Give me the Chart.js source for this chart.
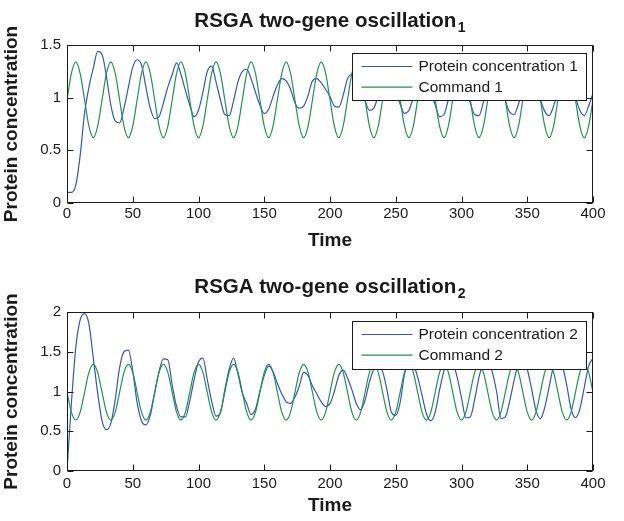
<!DOCTYPE html>
<html>
<head>
<meta charset="utf-8">
<script src="https://cdn.jsdelivr.net/npm/chart.js@4.4.1/dist/chart.umd.min.js"></script>
<style>
  html, body { margin: 0; padding: 0; background: #fff; }
  .panel { position: absolute; left: 0; width: 624px; }
  #top { top: 0; height: 260px; }
  #bottom { top: 260px; height: 261px; }
</style>
</head>
<body>
<div class="panel" id="top"><canvas id="chart1" width="624" height="260"></canvas></div>
<div class="panel" id="bottom"><canvas id="chart2" width="624" height="261"></canvas></div>
<script>
// sample times (read every ~3.33 time units)
const time = [
  0, 3.33, 6.67, 10, 13.33, 16.67, 20, 23.33, 26.67, 30,
  33.33, 36.67, 40, 43.33, 46.67, 50, 53.33, 56.67, 60, 63.33,
  66.67, 70, 73.33, 76.67, 80, 83.33, 86.67, 90, 93.33, 96.67,
  100, 103.33, 106.67, 110, 113.33, 116.67, 120, 123.33, 126.67, 130,
  133.33, 136.67, 140, 143.33, 146.67, 150, 153.33, 156.67, 160, 163.33,
  166.67, 170, 173.33, 176.67, 180, 183.33, 186.67, 190, 193.33, 196.67,
  200, 203.33, 206.67, 210, 213.33, 216.67, 220, 223.33, 226.67, 230,
  233.33, 236.67, 240, 243.33, 246.67, 250, 253.33, 256.67, 260, 263.33,
  266.67, 270, 273.33, 276.67, 280, 283.33, 286.67, 290, 293.33, 296.67,
  300, 303.33, 306.67, 310, 313.33, 316.67, 320, 323.33, 326.67, 330,
  333.33, 336.67, 340, 343.33, 346.67, 350, 353.33, 356.67, 360, 363.33,
  366.67, 370, 373.33, 376.67, 380, 383.33, 386.67, 390, 393.33, 396.67,
  400
];

// top panel
const protein1 = [
  0.10, 0.10, 0.17, 0.45, 0.85, 1.10, 1.28, 1.44, 1.41, 1.20,
  0.93, 0.78, 0.76, 0.90, 1.10, 1.29, 1.36, 1.31, 1.10, 0.90,
  0.80, 0.82, 0.95, 1.10, 1.22, 1.33, 1.22, 1.07, 0.93, 0.82,
  0.88, 1.05, 1.25, 1.30, 1.15, 0.98, 0.84, 0.83, 0.97, 1.15,
  1.25, 1.27, 1.18, 1.05, 0.93, 0.85, 0.89, 1.01, 1.12, 1.18,
  1.16, 1.08, 0.95, 0.90, 0.92, 1.02, 1.16, 1.18, 1.14, 1.08,
  1.01, 0.92, 0.91, 1.02, 1.18, 1.22, 1.18, 1.08, 0.97, 0.88,
  0.90, 1.02, 1.14, 1.20, 1.16, 1.06, 0.94, 0.85, 0.88, 1.00,
  1.13, 1.20, 1.17, 1.06, 0.93, 0.82, 0.84, 0.98, 1.12, 1.20,
  1.18, 1.08, 0.95, 0.84, 0.83, 0.96, 1.10, 1.19, 1.18, 1.09,
  0.97, 0.86, 0.84, 0.94, 1.08, 1.18, 1.19, 1.10, 0.98, 0.87,
  0.83, 0.92, 1.06, 1.17, 1.20, 1.12, 1.00, 0.88, 0.83, 0.92,
  1.04
];
const command1 = [
  0.98, 1.23, 1.34, 1.23, 0.98, 0.73, 0.62, 0.73,
  0.98, 1.23, 1.34, 1.23, 0.98, 0.73, 0.62, 0.73,
  0.98, 1.23, 1.34, 1.23, 0.98, 0.73, 0.62, 0.73,
  0.98, 1.23, 1.34, 1.23, 0.98, 0.73, 0.62, 0.73,
  0.98, 1.23, 1.34, 1.23, 0.98, 0.73, 0.62, 0.73,
  0.98, 1.23, 1.34, 1.23, 0.98, 0.73, 0.62, 0.73,
  0.98, 1.23, 1.34, 1.23, 0.98, 0.73, 0.62, 0.73,
  0.98, 1.23, 1.34, 1.23, 0.98, 0.73, 0.62, 0.73,
  0.98, 1.23, 1.34, 1.23, 0.98, 0.73, 0.62, 0.73,
  0.98, 1.23, 1.34, 1.23, 0.98, 0.73, 0.62, 0.73,
  0.98, 1.23, 1.34, 1.23, 0.98, 0.73, 0.62, 0.73,
  0.98, 1.23, 1.34, 1.23, 0.98, 0.73, 0.62, 0.73,
  0.98, 1.23, 1.34, 1.23, 0.98, 0.73, 0.62, 0.73,
  0.98, 1.23, 1.34, 1.23, 0.98, 0.73, 0.62, 0.73,
  0.98, 1.23, 1.34, 1.23, 0.98, 0.73, 0.62, 0.73,
  0.98
];

// bottom panel
const protein2 = [
  0.00, 0.85, 1.55, 1.90, 1.98, 1.85, 1.42, 0.98, 0.63, 0.52,
  0.60, 0.90, 1.30, 1.50, 1.52, 1.26, 0.86, 0.63, 0.58, 0.70,
  0.98, 1.25, 1.41, 1.40, 1.08, 0.81, 0.68, 0.68, 0.88, 1.15,
  1.37, 1.42, 1.15, 0.88, 0.69, 0.73, 1.02, 1.28, 1.42, 1.22,
  0.98, 0.85, 0.71, 0.78, 1.00, 1.20, 1.32, 1.25, 1.10, 0.97,
  0.87, 0.85, 0.93, 1.07, 1.24, 1.20, 1.07, 0.97, 0.87, 0.81,
  0.85, 1.00, 1.20, 1.27, 1.17, 1.02, 0.85, 0.77, 0.89, 1.12,
  1.28, 1.33, 1.25, 1.02, 0.74, 0.70, 0.86, 1.22, 1.36, 1.34,
  1.18, 0.95, 0.72, 0.63, 0.74, 1.02, 1.26, 1.38, 1.36, 1.18,
  0.92, 0.67, 0.68, 0.90, 1.18, 1.36, 1.40, 1.25, 1.00, 0.66,
  0.68, 0.88, 1.14, 1.35, 1.40, 1.28, 1.03, 0.76, 0.66, 0.80,
  1.06, 1.32, 1.41, 1.32, 1.08, 0.78, 0.67, 0.78, 1.05, 1.32,
  1.42
];
const command2 = [
  0.99, 0.74, 0.64, 0.74, 0.99, 1.24, 1.34, 1.24,
  0.99, 0.74, 0.64, 0.74, 0.99, 1.24, 1.34, 1.24,
  0.99, 0.74, 0.64, 0.74, 0.99, 1.24, 1.34, 1.24,
  0.99, 0.74, 0.64, 0.74, 0.99, 1.24, 1.34, 1.24,
  0.99, 0.74, 0.64, 0.74, 0.99, 1.24, 1.34, 1.24,
  0.99, 0.74, 0.64, 0.74, 0.99, 1.24, 1.34, 1.24,
  0.99, 0.74, 0.64, 0.74, 0.99, 1.24, 1.34, 1.24,
  0.99, 0.74, 0.64, 0.74, 0.99, 1.24, 1.34, 1.24,
  0.99, 0.74, 0.64, 0.74, 0.99, 1.24, 1.34, 1.24,
  0.99, 0.74, 0.64, 0.74, 0.99, 1.24, 1.34, 1.24,
  0.99, 0.74, 0.64, 0.74, 0.99, 1.24, 1.34, 1.24,
  0.99, 0.74, 0.64, 0.74, 0.99, 1.24, 1.34, 1.24,
  0.99, 0.74, 0.64, 0.74, 0.99, 1.24, 1.34, 1.24,
  0.99, 0.74, 0.64, 0.74, 0.99, 1.24, 1.34, 1.24,
  0.99, 0.74, 0.64, 0.74, 0.99, 1.24, 1.34, 1.24,
  0.99
];

const FONT = "'Liberation Sans', Arial, Helvetica, sans-serif";
const INK = "#1a1a1a";
const BLUE = "#3556b8";
const GREEN = "#22934e";

function toPoints(xs, ys) {
  return xs.map((x, i) => ({ x: x, y: ys[i] }));
}

// matlab style: box, inward ticks, title with subscript, boxed legend
const matlabFrame = {
  id: "matlabFrame",
  afterDatasetsDraw(chart, args, opts) {
    const { ctx, chartArea: a, scales } = chart;
    const L = Math.round(a.left) + 0.5, R = Math.round(a.right) - 0.5;
    const T = Math.round(a.top) + 0.5, B = Math.round(a.bottom) - 0.5;
    ctx.save();
    ctx.strokeStyle = INK;
    ctx.lineWidth = 1;
    ctx.beginPath();
    scales.x.ticks.forEach(t => {
      const px = Math.round(scales.x.getPixelForValue(t.value)) + 0.5;
      ctx.moveTo(px, B); ctx.lineTo(px, B - 6);
      ctx.moveTo(px, T); ctx.lineTo(px, T + 6);
    });
    scales.y.ticks.forEach(t => {
      const py = Math.round(scales.y.getPixelForValue(t.value)) + 0.5;
      ctx.moveTo(L, py); ctx.lineTo(L + 6, py);
      ctx.moveTo(R, py); ctx.lineTo(R - 6, py);
    });
    ctx.stroke();
    ctx.strokeRect(L, T, R - L, B - T);

    // title
    ctx.fillStyle = INK;
    ctx.textBaseline = "alphabetic";
    ctx.textAlign = "left";
    ctx.font = "bold 20.5px " + FONT;
    const wMain = ctx.measureText(opts.title).width;
    ctx.font = "bold 14px " + FONT;
    const wSub = ctx.measureText(opts.sub).width;
    const x0 = (a.left + a.right) / 2 - (wMain + 1.5 + wSub) / 2;
    ctx.font = "bold 20.5px " + FONT;
    ctx.fillText(opts.title, x0, opts.titleY);
    ctx.font = "bold 14px " + FONT;
    ctx.fillText(opts.sub, x0 + wMain + 1.5, opts.titleY + 5);

    // legend
    const lw = 234, lh = opts.legendH;
    const lx = Math.round(a.right - 7 - lw) + 0.5, ly = Math.round(a.top + opts.legendTop) + 0.5;
    ctx.fillStyle = "#fff";
    ctx.fillRect(lx, ly, lw, lh);
    ctx.strokeStyle = INK;
    ctx.strokeRect(lx, ly, lw, lh);
    ctx.font = "15.5px " + FONT;
    ctx.textBaseline = "middle";
    chart.data.datasets.forEach((ds, k) => {
      const y = ly + 13 + k * 20.6;
      ctx.strokeStyle = ds.borderColor;
      ctx.lineWidth = 1.2;
      ctx.beginPath();
      ctx.moveTo(lx + 9, y); ctx.lineTo(lx + 60, y);
      ctx.stroke();
      ctx.fillStyle = INK;
      ctx.fillText(ds.label, lx + 66, y + 0.5);
    });
    ctx.restore();
  }
};

function panelOptions(p) {
  return {
    responsive: false,
    animation: false,
    layout: { padding: { top: p.top, right: 31, bottom: 0, left: 0 } },
    elements: {
      point: { radius: 0 },
      line: { borderWidth: 1.2, cubicInterpolationMode: "monotone" }
    },
    plugins: {
      legend: { display: false },
      title: { display: false },
      tooltip: { enabled: false },
      matlabFrame: { title: "RSGA two-gene oscillation", sub: p.sub, titleY: p.titleY, legendTop: p.legendTop, legendH: p.legendH }
    },
    scales: {
      x: {
        type: "linear", min: 0, max: 400,
        ticks: { stepSize: 50, padding: p.tickPad, color: INK, font: { family: FONT, size: 15 }, callback: v => String(v) },
        grid: { display: false, drawTicks: false },
        border: { display: false },
        title: { display: true, text: "Time", color: INK, font: { family: FONT, size: 19, weight: "bold" }, padding: { top: 0, bottom: p.timePad } },
        afterFit: s => { s.height = p.xHeight; }
      },
      y: {
        min: 0, max: p.yMax,
        ticks: { stepSize: 0.5, padding: 6, color: INK, font: { family: FONT, size: 15 }, callback: v => String(v) },
        grid: { display: false, drawTicks: false },
        border: { display: false },
        title: { display: true, text: "Protein concentration", color: INK, font: { family: FONT, size: 19, weight: "bold" }, padding: { top: 0, bottom: 0 } },
        afterFit: s => { s.width = 67; }
      }
    }
  };
}

new Chart(document.getElementById("chart1"), {
  type: "line",
  data: {
    datasets: [
      { label: "Protein concentration 1", data: toPoints(time, protein1), borderColor: BLUE, order: 1 },
      { label: "Command 1", data: toPoints(time, command1), borderColor: GREEN, order: 0 }
    ]
  },
  options: panelOptions({ top: 45, sub: "1", titleY: 26.7, yMax: 1.5, xHeight: 57, tickPad: 2, timePad: 7.6, legendTop: 8.3, legendH: 47 }),
  plugins: [matlabFrame]
});

new Chart(document.getElementById("chart2"), {
  type: "line",
  data: {
    datasets: [
      { label: "Protein concentration 2", data: toPoints(time, protein2), borderColor: BLUE, order: 1 },
      { label: "Command 2", data: toPoints(time, command2), borderColor: GREEN, order: 0 }
    ]
  },
  options: panelOptions({ top: 52, sub: "2", titleY: 32.7, yMax: 2, xHeight: 50, tickPad: 4, timePad: 3.6, legendTop: 8.7, legendH: 48 }),
  plugins: [matlabFrame]
});
</script>
</body>
</html>
